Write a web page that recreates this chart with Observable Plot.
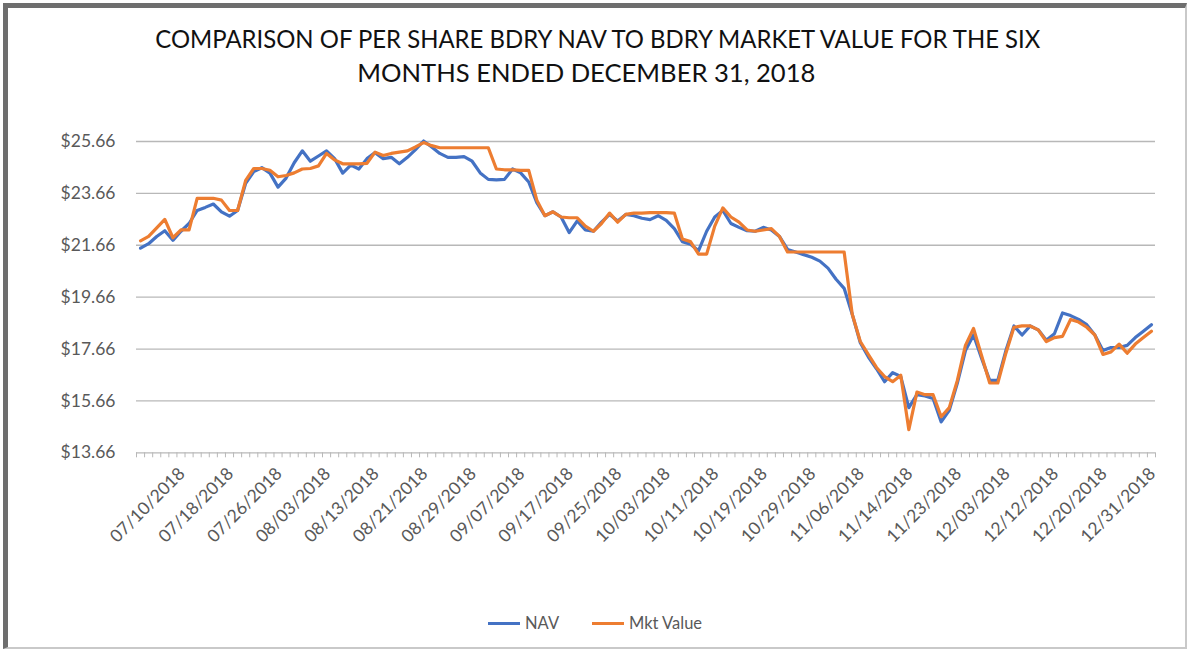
<!DOCTYPE html>
<html>
<head>
<meta charset="utf-8">
<script src="https://cdn.jsdelivr.net/npm/d3@7"></script>
<script src="https://cdn.jsdelivr.net/npm/@observablehq/plot@0.6"></script>
<style>
  html, body { margin: 0; padding: 0; background: #fff; }
  #frame { position: relative; width: 1187px; height: 649px; overflow: hidden; background: #fff; }
  #border { position: absolute; left: 3px; top: 3px; width: 1184px; height: 646px; box-sizing: border-box;
            border-top: 5px solid #6e6e6e; border-left: 5px solid #6e6e6e;
            border-right: 2px solid #c9c9c9; border-bottom: 2px solid #c9c9c9; pointer-events: none; }
  #title { position: absolute; top: 21px; left: 0; width: 1187px; text-align: center;
           font-family: Lato, "Open Sans", sans-serif; font-size: 25px; line-height: 34px; color: #111; }
  #title span { display: inline-block; white-space: nowrap; transform-origin: center; }
  #chart { position: absolute; top: 110px; left: 0; }
  #legend { position: absolute; top: 611px; left: 0; width: 1187px; height: 24px;
            font-family: Lato, "Open Sans", sans-serif; font-size: 16.5px; color: #595959; }
  .item { position: absolute; top: 0; height: 24px; display: flex; align-items: center; }
  .sw { display: inline-block; width: 32px; height: 0; border-top: 3px solid; margin-right: 5px; }
</style>
</head>
<body>
<div id="frame">
  <div id="title"><span id="t1">COMPARISON OF PER SHARE BDRY NAV TO BDRY MARKET VALUE FOR THE SIX</span><br><span id="t2">MONTHS ENDED DECEMBER 31, 2018</span></div>
  <div id="chart"></div>
  <div id="legend"></div>
  <div id="border"></div>
</div>
<script>
// Trading days, 07/02/2018 – 12/31/2018
const dates = [
  "07/02","07/03","07/05","07/06","07/09","07/10","07/11","07/12","07/13","07/16","07/17","07/18","07/19","07/20","07/23","07/24","07/25","07/26","07/27","07/30","07/31",
  "08/01","08/02","08/03","08/06","08/07","08/08","08/09","08/10","08/13","08/14","08/15","08/16","08/17","08/20","08/21","08/22","08/23","08/24","08/27","08/28","08/29","08/30","08/31",
  "09/04","09/05","09/06","09/07","09/10","09/11","09/12","09/13","09/14","09/17","09/18","09/19","09/20","09/21","09/24","09/25","09/26","09/27","09/28",
  "10/01","10/02","10/03","10/04","10/05","10/08","10/09","10/10","10/11","10/12","10/15","10/16","10/17","10/18","10/19","10/22","10/23","10/24","10/25","10/26","10/29","10/30","10/31",
  "11/01","11/02","11/05","11/06","11/07","11/08","11/09","11/12","11/13","11/14","11/15","11/16","11/19","11/20","11/21","11/23","11/26","11/27","11/28","11/29","11/30",
  "12/03","12/04","12/06","12/07","12/10","12/11","12/12","12/13","12/14","12/17","12/18","12/19","12/20","12/21","12/24","12/26","12/27","12/28","12/31"
].map(d => d + "/2018");

const tickLabels = ["07/10/2018","07/18/2018","07/26/2018","08/03/2018","08/13/2018","08/21/2018","08/29/2018",
  "09/07/2018","09/17/2018","09/25/2018","10/03/2018","10/11/2018","10/19/2018","10/29/2018","11/06/2018",
  "11/14/2018","11/23/2018","12/03/2018","12/12/2018","12/20/2018","12/31/2018"];

const yTicks = [13.66, 15.66, 17.66, 19.66, 21.66, 23.66, 25.66];

const nav = [
  21.55,21.72,22.00,22.22,21.85,22.20,22.50,23.00,23.12,23.25,22.95,22.78,23.00,24.05,24.50,24.65,24.44,23.90,24.25,24.84,25.30,
  24.90,25.10,25.30,25.00,24.44,24.75,24.60,25.00,25.23,25.00,25.05,24.80,25.05,25.35,25.68,25.45,25.20,25.05,25.05,25.08,24.90,24.45,24.20,
  24.18,24.20,24.60,24.45,24.10,23.30,22.80,22.95,22.75,22.15,22.60,22.25,22.20,22.55,22.85,22.60,22.85,22.80,22.70,
  22.65,22.80,22.62,22.30,21.80,21.70,21.45,22.20,22.75,23.00,22.50,22.35,22.22,22.20,22.35,22.25,22.00,21.50,21.40,21.30,21.20,21.05,20.78,
  20.35,20.00,19.00,17.90,17.35,16.90,16.40,16.75,16.60,15.40,15.90,15.85,15.75,14.85,15.30,16.35,17.60,18.20,17.30,16.45,16.45,
  17.60,18.55,18.20,18.55,18.40,18.00,18.25,19.05,18.95,18.80,18.60,18.20,17.60,17.72,17.72,17.80,18.10,18.35,18.60
];

const mktValue = [
  21.83,22.00,22.33,22.66,21.95,22.25,22.25,23.47,23.47,23.47,23.40,23.00,23.00,24.16,24.62,24.62,24.55,24.30,24.35,24.45,24.60,
  24.62,24.72,25.20,24.95,24.80,24.80,24.80,24.82,25.25,25.12,25.20,25.25,25.30,25.45,25.62,25.50,25.42,25.42,25.42,25.42,25.42,25.42,25.42,
  24.60,24.57,24.57,24.55,24.55,23.40,22.80,22.95,22.75,22.72,22.72,22.40,22.20,22.50,22.90,22.55,22.85,22.90,22.90,
  22.92,22.92,22.92,22.90,21.90,21.80,21.32,21.32,22.40,23.10,22.75,22.55,22.25,22.20,22.25,22.30,22.00,21.40,21.40,21.40,21.40,21.40,21.40,
  21.40,21.40,19.00,17.95,17.45,16.95,16.60,16.40,16.65,14.55,16.00,15.90,15.90,15.05,15.40,16.45,17.80,18.45,17.40,16.35,16.35,
  17.50,18.50,18.55,18.55,18.40,17.95,18.10,18.15,18.80,18.70,18.50,18.20,17.45,17.55,17.85,17.50,17.85,18.10,18.35
];

const seriesNames = ["NAV", "Mkt Value"];
const seriesColors = ["#4472C4", "#ED7D31"];

const navRows = nav.map((v, i) => ({i, v}));
const mktRows = mktValue.map((v, i) => ({i, v}));
const labelIdx = tickLabels.map(t => dates.indexOf(t));
const boundaries = d3.range(dates.length + 1).map(k => k - 0.5);

const fontFam = "Lato, 'Open Sans', sans-serif";
const axisColor = "#595959";

const chart = Plot.plot({
  width: 1187,
  height: 450,
  marginLeft: 136,
  marginRight: 32,
  marginTop: 31,
  marginBottom: 107.7,
  style: {fontFamily: fontFam, background: "transparent", overflow: "visible"},
  x: {type: "linear", domain: [-0.5, dates.length - 0.5], axis: null},
  y: {domain: [13.66, 25.66], axis: null},
  marks: [
    Plot.gridY(yTicks, {stroke: "#b8b8b8", strokeOpacity: 1, strokeWidth: 1.3}),
    Plot.axisY(yTicks, {anchor: "left", tickSize: 0, tickPadding: 21, tickFormat: d => "$" + d.toFixed(2),
      fontSize: 17.5, fill: axisColor, label: null}),
    Plot.axisX(boundaries, {anchor: "bottom", tickSize: 5, tickFormat: () => "", stroke: "#b8b8b8", label: null}),
    Plot.text(labelIdx, {x: d => d, frameAnchor: "bottom", text: d => dates[d], rotate: -45,
      textAnchor: "end", lineAnchor: "middle", dy: 18, dx: 1, fontSize: 17.5, fill: axisColor}),
    Plot.lineY(navRows, {x: "i", y: "v", stroke: seriesColors[0], strokeWidth: 3.2, strokeLinejoin: "round"}),
    Plot.lineY(mktRows, {x: "i", y: "v", stroke: seriesColors[1], strokeWidth: 3.2, strokeLinejoin: "round"})
  ]
});
document.getElementById("chart").appendChild(chart);

// Legend
const legend = document.getElementById("legend");
const legendLeft = [488, 592];
seriesNames.forEach((name, k) => {
  const item = document.createElement("div");
  item.className = "item";
  item.style.left = legendLeft[k] + "px";
  const sw = document.createElement("span");
  sw.className = "sw";
  sw.style.borderTopColor = seriesColors[k];
  const tx = document.createElement("span");
  tx.textContent = name;
  item.appendChild(sw);
  item.appendChild(tx);
  legend.appendChild(item);
});

// Fit each title line to the reference extent
function fitLine(el, left, right) {
  const r = el.getBoundingClientRect();
  const s = (right - left) / r.width;
  const shift = (left + right) / 2 - (r.left + r.width / 2);
  el.style.transform = `translateX(${shift}px) scaleX(${s})`;
}
fitLine(document.getElementById("t1"), 155, 1040);
fitLine(document.getElementById("t2"), 357, 815);
</script>
</body>
</html>
